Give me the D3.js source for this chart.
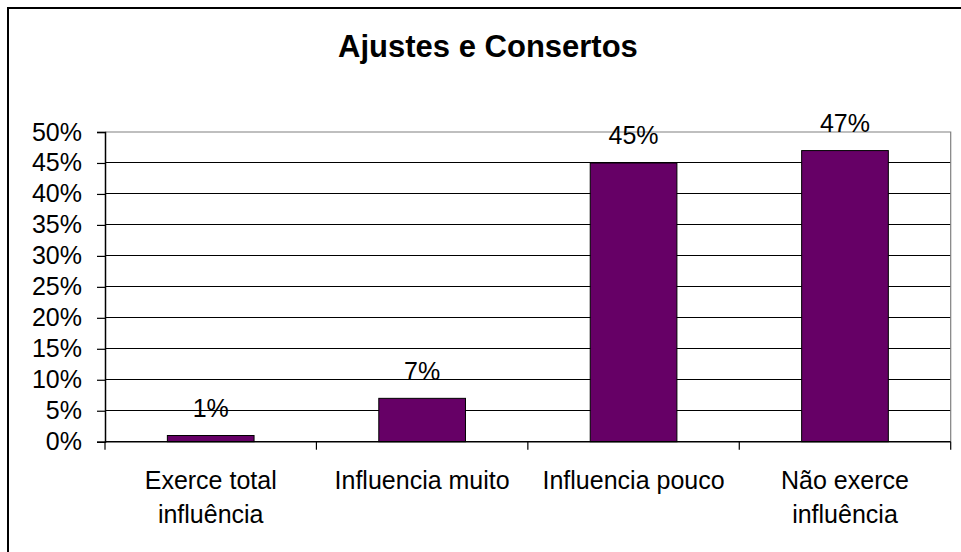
<!DOCTYPE html>
<html>
<head>
<meta charset="utf-8">
<script src="https://cdn.jsdelivr.net/npm/d3@7"></script>
<style>
  html, body { margin: 0; padding: 0; background: #fff; }
  svg { display: block; font-family: "Liberation Sans", Arial, sans-serif; }
</style>
</head>
<body>
<svg id="chart" width="961" height="552"></svg>
<script>
const title = "Ajustes e Consertos";
const categories = ["Exerce total influência", "Influencia muito", "Influencia pouco", "Não exerce influência"];
const categoryLines = [["Exerce total", "influência"], ["Influencia muito"], ["Influencia pouco"], ["Não exerce", "influência"]];
const values = [0.01, 0.07, 0.45, 0.47];
const valueLabels = ["1%", "7%", "45%", "47%"];
const yTicks = [0, 0.05, 0.10, 0.15, 0.20, 0.25, 0.30, 0.35, 0.40, 0.45, 0.50];

(function () {
const svg = d3.select("#chart");
const pLeft = 105, pRight = 950.7, pTop = 132, pBottom = 441.7;

// outer frame
svg.append("rect").attr("x", 8).attr("y", 8).attr("width", 980).attr("height", 580)
  .attr("fill", "none").attr("stroke", "#000").attr("stroke-width", 2);

// title
svg.append("text").attr("x", 488).attr("y", 57).attr("text-anchor", "middle")
  .attr("font-size", "31px").attr("font-weight", "bold").attr("fill", "#000").text(title);

const x = d3.scaleBand().domain(categories).range([pLeft, pRight]).paddingInner(0.59).paddingOuter(0.295);
const y = d3.scaleLinear().domain([0, 0.5]).range([pBottom, pTop]);
const step = x.step();

// gridlines
svg.append("g").selectAll("line").data(yTicks.filter(d => d > 0 && d < 0.5)).join("line")
  .attr("x1", pLeft).attr("x2", pRight).attr("y1", d => y(d)).attr("y2", d => y(d))
  .attr("stroke", "#000").attr("stroke-width", 1).attr("shape-rendering", "crispEdges");

// plot area border (top and right, gray)
svg.append("path").attr("d", `M${pLeft},${y(0.5)}H${pRight}V${pBottom}`)
  .attr("fill", "none").attr("stroke", "#808080").attr("stroke-width", 1.2);

// bars
svg.append("g").selectAll("rect").data(values).join("rect")
  .attr("x", (d, i) => x(categories[i])).attr("width", x.bandwidth())
  .attr("y", d => y(d)).attr("height", d => pBottom - y(d))
  .attr("fill", "#660066").attr("stroke", "#000").attr("stroke-width", 1);

// value labels
svg.append("g").selectAll("text").data(values).join("text")
  .attr("x", (d, i) => x(categories[i]) + x.bandwidth() / 2)
  .attr("y", d => y(d) - 18.5)
  .attr("text-anchor", "middle").attr("font-size", "25px").attr("fill", "#000")
  .text((d, i) => valueLabels[i]);

// y axis
const yAxis = d3.axisLeft(y).tickValues(yTicks).tickFormat(d3.format(".0%")).tickSize(8).tickPadding(15);
const gy = svg.append("g").attr("transform", `translate(${pLeft},0)`).call(yAxis);
gy.select(".domain").attr("stroke", "#000").attr("stroke-width", 1.5);
gy.selectAll(".tick line").attr("stroke", "#000").attr("stroke-width", 1.2);
gy.selectAll(".tick text").attr("font-size", "25px").attr("font-family", "Liberation Sans, Arial, sans-serif").attr("fill", "#000");

// x axis line
svg.append("line").attr("x1", pLeft).attr("x2", pRight).attr("y1", pBottom).attr("y2", pBottom)
  .attr("stroke", "#000").attr("stroke-width", 1.5);
// x ticks at category boundaries
const boundaries = d3.range(categories.length + 1).map(i => pLeft + i * step);
svg.append("g").selectAll("line").data(boundaries).join("line")
  .attr("x1", d => d).attr("x2", d => d).attr("y1", pBottom).attr("y2", pBottom + 8)
  .attr("stroke", "#000").attr("stroke-width", 1.2);

// category labels
const gl = svg.append("g");
categories.forEach((c, i) => {
  const t = gl.append("text").attr("text-anchor", "middle").attr("font-size", "25px").attr("fill", "#000");
  categoryLines[i].forEach((line, j) => {
    t.append("tspan").attr("x", x(c) + x.bandwidth() / 2).attr("y", 489 + j * 34).text(line);
  });
});
})();
</script>
</body>
</html>
